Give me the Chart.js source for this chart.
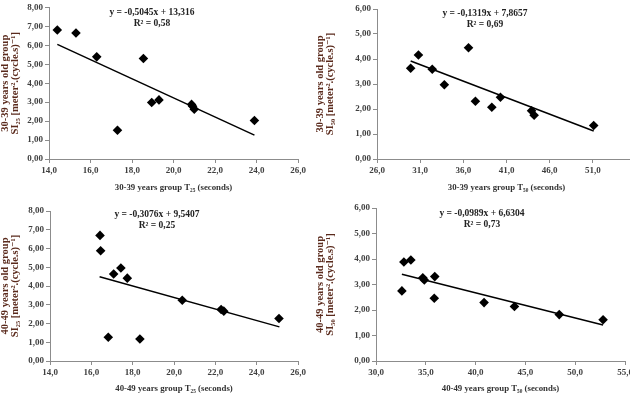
<!DOCTYPE html>
<html>
<head>
<meta charset="utf-8">
<script src="https://cdn.jsdelivr.net/npm/chart.js@4.4.1/dist/chart.umd.min.js"></script>
<style>
  html, body { margin: 0; padding: 0; background: #fff; overflow: hidden; width: 630px; height: 396px; }
  canvas { position: absolute; }
</style>
</head>
<body>
<canvas id="g1" width="315" height="198" style="left:0;top:0"></canvas>
<canvas id="g2" width="345" height="198" style="left:315px;top:0"></canvas>
<canvas id="g3" width="315" height="198" style="left:0;top:198px"></canvas>
<canvas id="g4" width="345" height="198" style="left:315px;top:198px"></canvas>
<script>
// 30-39 years, T25 vs SI25
const t25_3039 = [14.4, 15.3, 16.3, 17.3, 18.55, 18.95, 19.3, 20.87, 20.92, 21.0, 23.9];
const si25_3039 = [6.81, 6.65, 5.39, 1.52, 5.30, 2.98, 3.12, 2.88, 2.78, 2.63, 2.03];
const trend25_3039 = [[14.4, 6.05], [23.9, 1.26]];

// 30-39 years, T50 vs SI50
const t50_3039 = [29.9, 30.8, 32.4, 33.8, 36.6, 37.4, 39.3, 40.3, 43.9, 44.2, 51.1];
const si50_3039 = [3.63, 4.16, 3.59, 2.97, 4.45, 2.31, 2.07, 2.47, 1.93, 1.75, 1.34];
const trend50_3039 = [[29.9, 3.92], [51.1, 1.12]];

// 40-49 years, T25 vs SI25
const t25_4049 = [16.42, 16.45, 16.82, 17.08, 17.43, 17.74, 18.35, 20.4, 22.28, 22.41, 25.08];
const si25_4049 = [6.70, 5.88, 1.27, 4.64, 4.96, 4.42, 1.17, 3.24, 2.75, 2.66, 2.27];
const trend25_4049 = [[16.4, 4.49], [25.1, 1.82]];

// 40-49 years, T50 vs SI50
const t50_4049 = [32.6, 32.8, 33.5, 34.7, 34.85, 35.85, 35.9, 40.85, 43.9, 48.4, 52.8];
const si50_4049 = [2.75, 3.88, 3.96, 3.26, 3.18, 2.46, 3.31, 2.29, 2.14, 1.82, 1.62];
const trend50_4049 = [[32.6, 3.40], [52.8, 1.41]];

const eq1 = ['y = -0,5045x + 13,316', 'R² = 0,58'];
const eq2 = ['y = -0,1319x + 7,8657', 'R² = 0,69'];
const eq3 = ['y = -0,3076x + 9,5407', 'R² = 0,25'];
const eq4 = ['y = -0,0989x + 6,6304', 'R² = 0,73'];

const serif = "'Liberation Serif', 'DejaVu Serif', serif";

function pintarPanel(id, xs, ys, trend, eq, cfg) {
    const ctx = document.getElementById(id).getContext('2d');

    const puntos = xs.map((x, i) => ({ x: x, y: ys[i] }));
    const linea = trend.map(p => ({ x: p[0], y: p[1] }));

    new Chart(ctx, {
        type: 'scatter',
        data: {
            datasets: [
                {
                    data: puntos,
                    pointStyle: 'rectRot',
                    pointRadius: 4.8,
                    pointHoverRadius: 4.8,
                    backgroundColor: '#000',
                    borderColor: '#000',
                    borderWidth: 0,
                    order: 1
                },
                {
                    type: 'line',
                    data: linea,
                    borderColor: '#000',
                    borderWidth: 1.5,
                    pointRadius: 0,
                    fill: false,
                    order: 2
                }
            ]
        },
        options: {
            responsive: false,
            animation: false,
            devicePixelRatio: 1,
            layout: { padding: cfg.padding },
            plugins: {
                legend: { display: false },
                tooltip: { enabled: false }
            },
            scales: {
                x: {
                    type: 'linear',
                    min: cfg.xmin,
                    max: cfg.xmax,
                    afterFit: s => { s.height = cfg.xh; },
                    border: { color: '#8c8c8c', width: 1 },
                    grid: { drawOnChartArea: false, drawTicks: true, tickLength: 4, color: '#8c8c8c' },
                    ticks: {
                        stepSize: cfg.xstep,
                        padding: 2,
                        color: '#404040',
                        font: { family: serif, size: 9, weight: 'bold' },
                        maxRotation: 0,
                        callback: v => (v === cfg.hideX ? '' : v.toFixed(1).replace('.', ','))
                    },
                    title: {
                        display: true,
                        text: cfg.xtitle,
                        color: '#333',
                        padding: { top: 0, bottom: cfg.titleBottom },
                        font: { family: serif, size: 8.8, weight: 'bold' }
                    }
                },
                y: {
                    type: 'linear',
                    min: 0,
                    max: cfg.ymax,
                    afterFit: s => { s.width = cfg.yw; },
                    border: { color: '#8c8c8c', width: 1 },
                    grid: { drawOnChartArea: false, drawTicks: true, tickLength: 4, color: '#8c8c8c' },
                    ticks: {
                        stepSize: 1,
                        padding: 2,
                        color: '#404040',
                        font: { family: serif, size: 9, weight: 'bold' },
                        callback: v => v.toFixed(2).replace('.', ',')
                    },
                    title: {
                        display: true,
                        text: cfg.ytitle,
                        color: '#5a2a1c',
                        padding: { top: 0, bottom: 0 },
                        font: { family: serif, size: 10.5, weight: 'bold', lineHeight: 1.0 }
                    }
                }
            }
        },
        plugins: [{
            id: 'ecuacion',
            afterDatasetsDraw(chart) {
                const c = chart.ctx;
                c.save();
                c.fillStyle = '#222';
                c.font = 'bold 9.5px ' + serif;
                c.textAlign = 'center';
                c.textBaseline = 'middle';
                c.fillText(eq[0], cfg.eqx, cfg.eqy);
                c.fillText(eq[1], cfg.eqx, cfg.eqy + 10.5);
                c.restore();
            }
        }]
    });
}

pintarPanel('g1', t25_3039, si25_3039, trend25_3039, eq1, {
    xmin: 14, xmax: 26, xstep: 2, ymax: 8,
    padding: { left: 0, top: 7, right: 17, bottom: 0 },
    xh: 39, yw: 49, eqx: 152, eqy: 13, titleBottom: 4.5,
    xtitle: '30-39 years group T₂₅ (seconds)',
    ytitle: ['30-39 years old group', 'SI₂₅ [meter².(cycle.s)⁻¹]']
});

pintarPanel('g2', t50_3039, si50_3039, trend50_3039, eq2, {
    xmin: 26, xmax: 56, xstep: 5, ymax: 6, hideX: 56,
    padding: { left: 0, top: 9, right: 24, bottom: 0 },
    xh: 39, yw: 62, eqx: 170, eqy: 14, titleBottom: 4.5,
    xtitle: '30-39 years group T₅₀ (seconds)',
    ytitle: ['30-39 years old group', 'SI₅₀ [meter².(cycle.s)⁻¹]']
});

pintarPanel('g3', t25_4049, si25_4049, trend25_4049, eq3, {
    xmin: 14, xmax: 26, xstep: 2, ymax: 8,
    padding: { left: 0, top: 13, right: 17, bottom: 0 },
    xh: 35, yw: 50, eqx: 157, eqy: 17, titleBottom: 1.5,
    xtitle: '40-49 years group T₂₅ (seconds)',
    ytitle: ['40-49 years old group', 'SI₂₅ [meter².(cycle.s)⁻¹]']
});

pintarPanel('g4', t50_4049, si50_4049, trend50_4049, eq4, {
    xmin: 30, xmax: 55, xstep: 5, ymax: 6,
    padding: { left: 0, top: 10, right: 35, bottom: 0 },
    xh: 35, yw: 61, eqx: 167, eqy: 16, titleBottom: 1.5,
    xtitle: '40-49 years group T₅₀ (seconds)',
    ytitle: ['40-49 years old group', 'SI₅₀ [meter².(cycle.s)⁻¹]']
});
</script>
</body>
</html>
